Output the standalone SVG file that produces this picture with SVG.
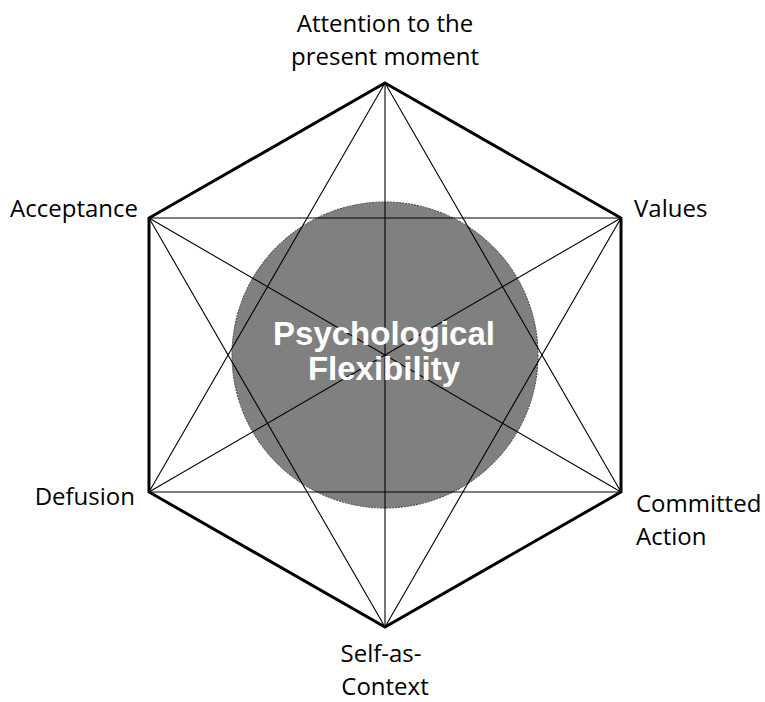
<svg xmlns="http://www.w3.org/2000/svg" width="765" height="702" viewBox="0 0 765 702">
<style>
.lbl{font-family:"Open Sans","Noto Sans","Liberation Sans",sans-serif;font-size:24px;fill:#000}
.ctr{font-family:"Liberation Sans",Arial,sans-serif;font-size:33px;font-weight:bold;fill:#fff;text-anchor:middle}
.thin{stroke:#000;stroke-width:1.1;fill:none}
.hex{stroke:#000;stroke-width:3;fill:none;stroke-linejoin:miter}
</style>
<rect width="765" height="702" fill="#fff"/>
<g id="core">
<circle cx="385" cy="355" r="153" fill="#808080" stroke="#333" stroke-width="1" stroke-dasharray="2 1"/>
</g>
<g id="connectors">
<g class="thin">
<line x1="385" y1="83" x2="385" y2="627"/>
<line x1="621" y1="218" x2="149" y2="492"/>
<line x1="621" y1="492" x2="149" y2="218"/>
<line x1="385" y1="83" x2="621" y2="492"/>
<line x1="385" y1="83" x2="149" y2="492"/>
<line x1="385" y1="627" x2="621" y2="218"/>
<line x1="385" y1="627" x2="149" y2="218"/>
<line x1="149" y1="218" x2="621" y2="218"/>
<line x1="149" y1="492" x2="621" y2="492"/>
</g>
<polygon class="hex" points="385,83 621,218 621,492 385,627 149,492 149,218"/>
</g>
<g id="center-label">
<text class="ctr" x="384" y="345">Psychological</text>
<text class="ctr" x="384" y="380">Flexibility</text>
</g>
<g id="node-attention">
<text class="lbl" x="385" y="32" text-anchor="middle">Attention to the</text>
<text class="lbl" x="385" y="65" text-anchor="middle">present moment</text>
</g>
<g id="node-values">
<text class="lbl" x="634" y="217">Values</text>
</g>
<g id="node-committed">
<text class="lbl" x="636" y="512">Committed</text>
<text class="lbl" x="636" y="545">Action</text>
</g>
<g id="node-self">
<text class="lbl" x="381" y="662" text-anchor="middle">Self-as-</text>
<text class="lbl" x="385" y="695" text-anchor="middle">Context</text>
</g>
<g id="node-defusion">
<text class="lbl" x="135" y="505" text-anchor="end">Defusion</text>
</g>
<g id="node-acceptance">
<text class="lbl" x="138" y="217" text-anchor="end">Acceptance</text>
</g>
</svg>
